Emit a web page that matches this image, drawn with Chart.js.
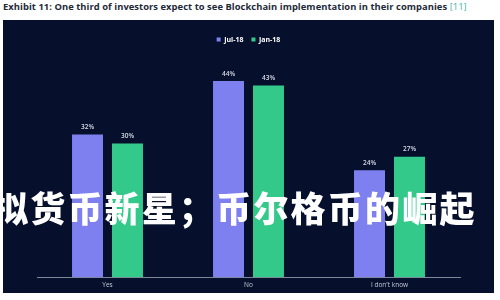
<!DOCTYPE html>
<html><head><meta charset="utf-8">
<script src="https://cdn.jsdelivr.net/npm/chart.js@4/dist/chart.umd.min.js"></script>
<style>
html,body{margin:0;padding:0;background:#fff;width:500px;height:300px;overflow:hidden;position:relative;font-family:"Open Sans","Noto Sans",sans-serif;}
#title{position:absolute;left:3px;top:0px;font-size:9.4px;font-weight:700;color:#1d2a3a;white-space:nowrap;letter-spacing:0.05px;}
#title span{color:#3fb6a8;font-weight:400;}
#panel{position:absolute;left:3px;top:20px;width:491px;height:273px;background:#06102d;}
#overlay{position:absolute;left:-7px;top:181px;font-family:"Noto Sans CJK SC";font-weight:900;font-size:35px;color:#fff;white-space:nowrap;letter-spacing:2.2px;}
</style></head>
<body>
<div id="title">Exhibit 11: One third of investors expect to see Blockchain implementation in their companies <span>[11]</span></div>
<div id="panel"><canvas id="c" width="491" height="273"></canvas></div>
<div id="overlay">拟货币新星；币尔格币的崛起</div>
<script>
const categories = ["Yes", "No", "I don't know"];
const jul18 = [32, 44, 24];
const jan18 = [30, 43, 27];
const seriesNames = ["Jul-18", "Jan-18"];

const labelPlugin = {
  id: 'vals',
  afterDatasetsDraw(chart) {
    const ctx = chart.ctx;
    ctx.save();
    ctx.font = '600 6.5px "Open Sans", sans-serif';
    ctx.fillStyle = '#d8dce8';
    ctx.textAlign = 'center';
    ctx.textBaseline = 'bottom';
    chart.data.datasets.forEach((ds, i) => {
      chart.getDatasetMeta(i).data.forEach((bar, j) => {
        ctx.fillText(ds.data[j] + '%', bar.x, bar.y - 4);
      });
    });
    ctx.restore();
  }
};

new Chart(document.getElementById('c'), {
  type: 'bar',
  data: {
    labels: categories,
    datasets: [
      { label: seriesNames[0], data: jul18, backgroundColor: '#7f80f0' },
      { label: seriesNames[1], data: jan18, backgroundColor: '#33c98a' }
    ]
  },
  options: {
    responsive: false,
    animation: false,
    devicePixelRatio: 1,
    layout: { padding: { left: 34, right: 34, top: 8, bottom: 0 } },
    categoryPercentage: 0.567,
    barPercentage: 0.775,
    plugins: {
      legend: {
        labels: {
          color: '#ffffff',
          font: { size: 7, weight: '700', family: '"Open Sans", sans-serif' },
          boxWidth: 4, boxHeight: 4, padding: 8
        }
      },
      tooltip: { enabled: false }
    },
    scales: {
      x: {
        grid: { display: false, drawTicks: false },
        border: { color: '#7d879c', width: 1 },
        ticks: { color: '#c2c8d6', font: { size: 6.5, family: '"Open Sans", sans-serif' }, padding: 4 }
      },
      y: { display: false, min: 0, max: 50.3 }
    }
  },
  plugins: [labelPlugin]
});
</script>
</body></html>
